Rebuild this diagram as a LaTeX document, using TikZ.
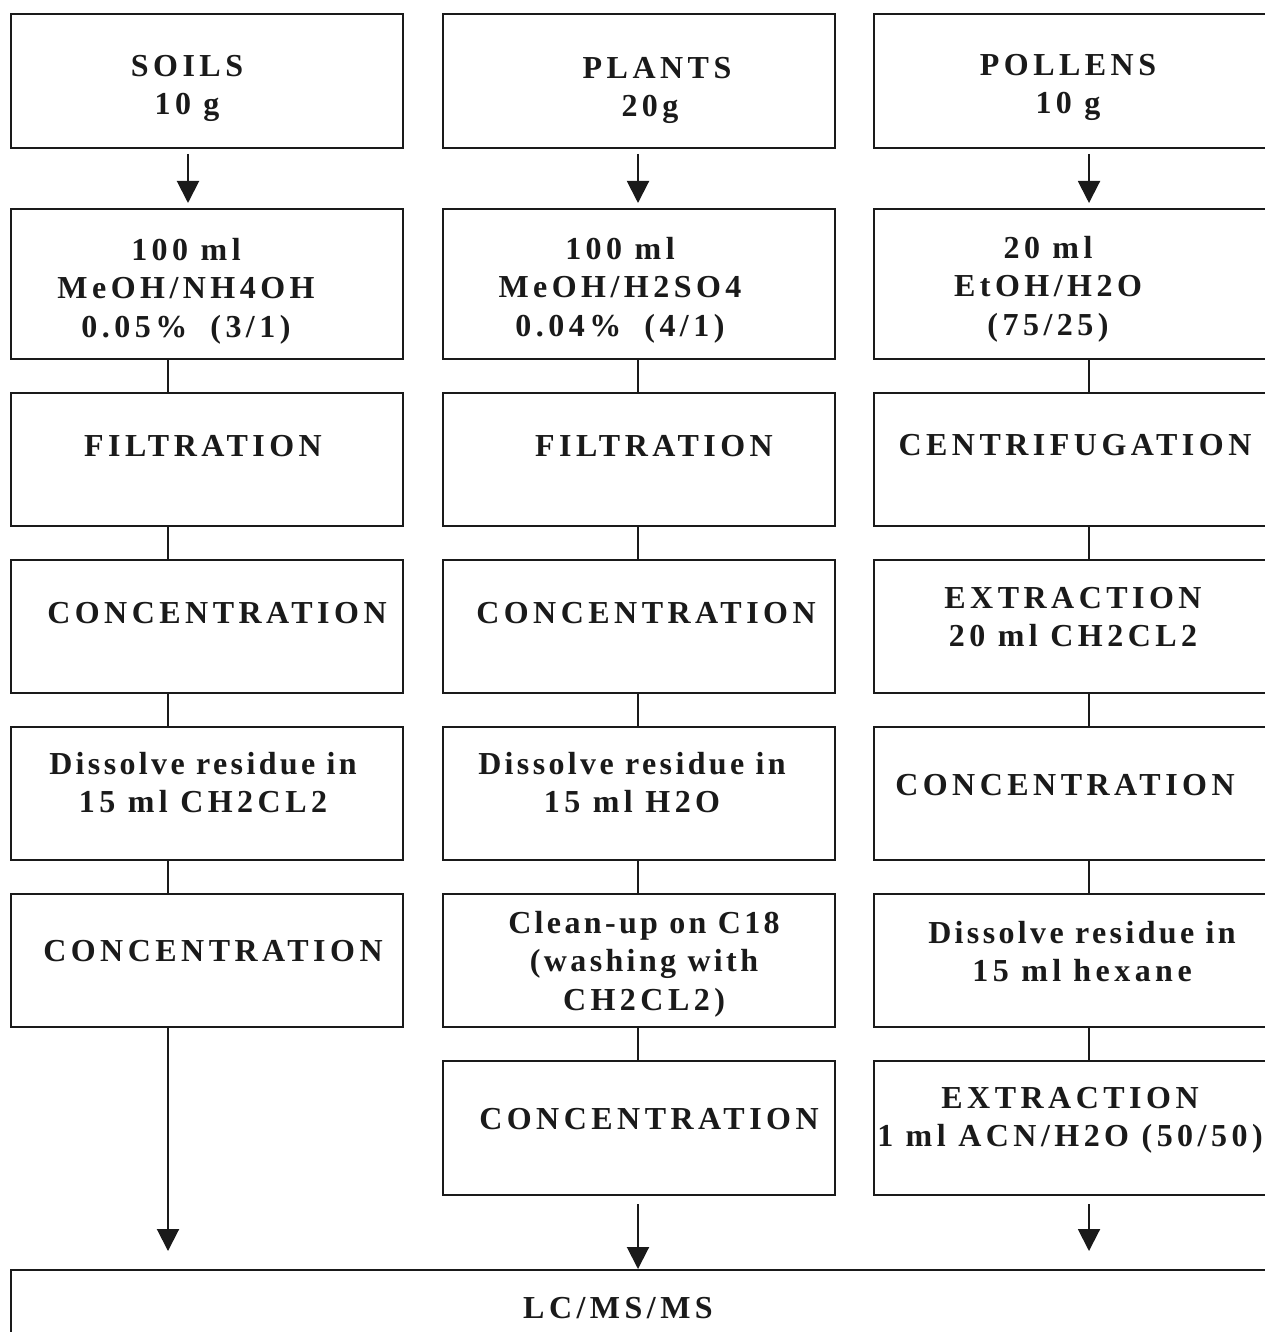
\documentclass[tikz,border=0pt]{standalone}
\usepackage{fontspec}
\newfontfamily\tb[LetterSpace=14,BoldFont={Liberation Serif Bold}]{Liberation Serif}
\newfontfamily\tbl[LetterSpace=10.5,BoldFont={Liberation Serif Bold}]{Liberation Serif}
\usetikzlibrary{arrows.meta}
\definecolor{ink}{HTML}{1A1A1A}
\begin{document}
\begin{tikzpicture}[x=0.5pt,y=-0.5pt,
 box/.style={draw=ink,line width=1pt,minimum width=196pt,inner sep=0pt},
 txt/.style={font=\tb\bfseries\fontsize{16pt}{19.25pt}\selectfont,text=ink,inner sep=0pt,align=center},
 conn/.style={draw=ink,line width=1pt},
 arr/.style={conn,-{Triangle[length=11pt,width=11pt]}}]
\useasboundingbox (0,0) rectangle (1264,1332);
\fill[white] (0,0) rectangle (1264,1332);
% columns
\coordinate (cL) at (168,0);
\coordinate (cLa) at (188,0);
\coordinate (cM) at (638,0);
\coordinate (cR) at (1089,0);
% boxes left
\node[box,minimum height=67pt] (L1) at (207,81) {};
\node[box,minimum height=75pt] (L2) at (207,284) {};
\node[box,minimum height=66.5pt] (L3) at (207,459.5) {};
\node[box,minimum height=66.5pt] (L4) at (207,626.5) {};
\node[box,minimum height=66.5pt] (L5) at (207,793.5) {};
\node[box,minimum height=66.5pt] (L6) at (207,960.5) {};
% boxes middle
\node[box,minimum height=67pt] (M1) at (639,81) {};
\node[box,minimum height=75pt] (M2) at (639,284) {};
\node[box,minimum height=66.5pt] (M3) at (639,459.5) {};
\node[box,minimum height=66.5pt] (M4) at (639,626.5) {};
\node[box,minimum height=66.5pt] (M5) at (639,793.5) {};
\node[box,minimum height=66.5pt] (M6) at (639,960.5) {};
\node[box,minimum height=67pt] (M7) at (639,1128) {};
% boxes right
\node[box,minimum height=67pt] (R1) at (1070,81) {};
\node[box,minimum height=75pt] (R2) at (1070,284) {};
\node[box,minimum height=66.5pt] (R3) at (1070,459.5) {};
\node[box,minimum height=66.5pt] (R4) at (1070,626.5) {};
\node[box,minimum height=66.5pt] (R5) at (1070,793.5) {};
\node[box,minimum height=66.5pt] (R6) at (1070,960.5) {};
\node[box,minimum height=67pt] (R7) at (1070,1128) {};
% bottom box
\node[box,minimum width=639pt,minimum height=60pt] (B) at (650,1330) {};
% texts left
\node[txt,anchor=north] (tL1) at (187,54.5) {SOILS\\10 g};
\node[txt,anchor=north] (tL2) at (186,237.5) {100 ml\\MeOH/NH4OH\\0.05\%\hspace{11.5pt}(3/1)};
\node[txt,anchor=base] (tL3) at (203,456) {FILTRATION};
\node[txt,anchor=base] (tL4) at (217,623) {CONCENTRATION};
\node[txt,anchor=north] (tL5) at (203,751.5) {{\tbl Dissolve residue in}\\15 ml CH2CL2};
\node[txt,anchor=base] (tL6) at (213,961) {CONCENTRATION};
% texts middle
\node[txt,anchor=north] (tM1) at (657,56.5) {PLANTS\\20g\hspace*{7pt}};
\node[txt,anchor=north] (tM2) at (620,236.5) {100 ml\\MeOH/H2SO4\\0.04\%\hspace{11.5pt}(4/1)};
\node[txt,anchor=base] (tM3) at (654,456) {FILTRATION};
\node[txt,anchor=base] (tM4) at (646,623) {CONCENTRATION};
\node[txt,anchor=north] (tM5) at (632,751.5) {{\tbl Dissolve residue in}\\15 ml H2O};
\node[txt,anchor=north] (tM6) at (644,910.5) {{\tbl Clean-up on C18}\\{\tbl (washing with}\\CH2CL2)};
\node[txt,anchor=base] (tM7) at (649,1129) {CONCENTRATION};
% texts right
\node[txt,anchor=north] (tR1) at (1068,53.5) {POLLENS\\10 g};
\node[txt,anchor=north] (tR2) at (1048,235.5) {20 ml\\EtOH/H2O\\(75/25)};
\node[txt,anchor=base] (tR3) at (1075,455) {CENTRIFUGATION};
\node[txt,anchor=north] (tR4) at (1073,586.5) {EXTRACTION\\20 ml CH2CL2};
\node[txt,anchor=base] (tR5) at (1065,795) {CONCENTRATION};
\node[txt,anchor=north] (tR6) at (1082,920.5) {{\tbl Dissolve residue in}\\15 ml\hspace{6pt}hexane};
\node[txt,anchor=north] (tR7) at (1070,1086.5) {EXTRACTION\\1 ml ACN/H2O (50/50)};
\node[txt,anchor=base] (tB) at (618,1318) {LC/MS/MS};
% top arrows
\draw[arr,shorten <=2.5pt,shorten >=2.5pt] (L1.south -| cLa) -- (L2.north -| cLa);
\draw[arr,shorten <=2.5pt,shorten >=2.5pt] (M1.south -| cM) -- (M2.north -| cM);
\draw[arr,shorten <=2.5pt,shorten >=2.5pt] (R1.south -| cR) -- (R2.north -| cR);
% left connectors
\draw[conn] (L2.south -| cL) -- (L3.north -| cL);
\draw[conn] (L3.south -| cL) -- (L4.north -| cL);
\draw[conn] (L4.south -| cL) -- (L5.north -| cL);
\draw[conn] (L5.south -| cL) -- (L6.north -| cL);
\draw[arr,shorten >=9pt] (L6.south -| cL) -- (B.north -| cL);
% middle connectors
\draw[conn] (M2.south -| cM) -- (M3.north -| cM);
\draw[conn] (M3.south -| cM) -- (M4.north -| cM);
\draw[conn] (M4.south -| cM) -- (M5.north -| cM);
\draw[conn] (M5.south -| cM) -- (M6.north -| cM);
\draw[conn] (M6.south -| cM) -- (M7.north -| cM);
\draw[arr,shorten <=4pt] (M7.south -| cM) -- (B.north -| cM);
% right connectors
\draw[conn] (R2.south -| cR) -- (R3.north -| cR);
\draw[conn] (R3.south -| cR) -- (R4.north -| cR);
\draw[conn] (R4.south -| cR) -- (R5.north -| cR);
\draw[conn] (R5.south -| cR) -- (R6.north -| cR);
\draw[conn] (R6.south -| cR) -- (R7.north -| cR);
\draw[arr,shorten <=4pt,shorten >=9pt] (R7.south -| cR) -- (B.north -| cR);
\end{tikzpicture}
\end{document}
